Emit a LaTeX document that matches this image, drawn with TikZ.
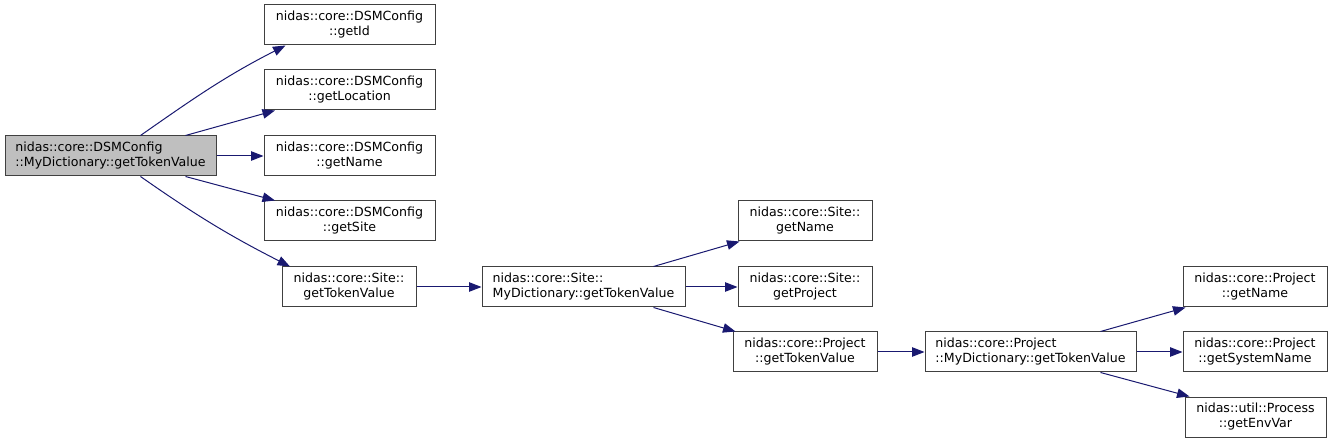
\documentclass[tikz,border=0pt]{standalone}
\usepackage{fontspec}
\setmainfont{DejaVu Sans}
\usetikzlibrary{arrows.meta}
\definecolor{edgeblue}{HTML}{191970}
\definecolor{boxgray}{HTML}{BFBFBF}
\definecolor{boxline}{HTML}{404040}
\tikzset{
  fn/.style={draw=boxline, line width=1pt, fill=white, minimum height=40pt, inner sep=0pt,
    align=center, font=\fontsize{12.6}{15}\selectfont},
  fnl/.style={fn, align=left},
  cur/.style={fnl, fill=boxgray},
  edge/.style={draw=edgeblue, line width=1pt, -{Triangle[length=12.5pt,width=9.5pt]}}
}
\begin{document}
\begin{tikzpicture}[x=1pt,y=1pt]
\useasboundingbox (0,0) rectangle (1333,-443);
\node[cur, minimum width=211pt] (main) at (110.5,-156) {nidas::core::DSMConfig\\::MyDictionary::getTokenValue};
\node[fn, minimum width=171pt] (getId) at (349.5,-25) {nidas::core::DSMConfig\\::getId};
\node[fn, minimum width=171pt] (getLoc) at (349.5,-90) {nidas::core::DSMConfig\\::getLocation};
\node[fn, minimum width=171pt] (dName) at (349.5,-156) {nidas::core::DSMConfig\\::getName};
\node[fn, minimum width=171pt] (getSite) at (349.5,-221) {nidas::core::DSMConfig\\::getSite};
\node[fn, minimum width=134pt] (sTok) at (349,-287) {nidas::core::Site::\\getTokenValue};
\node[fnl, minimum width=203pt] (sDict) at (583.5,-287) {nidas::core::Site::\\MyDictionary::getTokenValue};
\node[fn, minimum width=134pt] (sName) at (805,-221) {nidas::core::Site::\\getName};
\node[fn, minimum width=134pt] (sProj) at (805,-287) {nidas::core::Site::\\getProject};
\node[fn, minimum width=144pt] (pTok) at (805,-352) {nidas::core::Project\\::getTokenValue};
\node[fnl, minimum width=211pt] (pDict) at (1030.5,-352) {nidas::core::Project\\::MyDictionary::getTokenValue};
\node[fn, minimum width=144pt] (pName) at (1255,-287) {nidas::core::Project\\::getName};
\node[fn, minimum width=144pt] (pSys) at (1255,-352) {nidas::core::Project\\::getSystemName};
\node[fn, minimum width=141pt] (pEnv) at (1255.5,-417) {nidas::util::Process\\::getEnvVar};

\draw[edge] ([xshift=30pt]main.north) to[out=35,in=207] ([xshift=-64pt]getId.south);
\draw[edge] ([xshift=75pt]main.north) -- ([xshift=-74.5pt]getLoc.south);
\draw[edge] (main.east) -- (dName.west);
\draw[edge] ([xshift=75pt]main.south) -- ([xshift=-74.5pt]getSite.north);
\draw[edge] ([xshift=30pt]main.south) to[out=-35,in=153] ([xshift=-59pt]sTok.north);
\draw[edge] (sTok.east) -- (sDict.west);
\draw[edge] ([xshift=70pt]sDict.north) -- ([xshift=2pt]sName.south west);
\draw[edge] (sDict.east) -- (sProj.west);
\draw[edge] ([xshift=70pt]sDict.south) -- ([xshift=3pt]pTok.north west);
\draw[edge] (pTok.east) -- (pDict.west);
\draw[edge] ([xshift=70pt]pDict.north) -- ([xshift=3pt]pName.south west);
\draw[edge] (pDict.east) -- (pSys.west);
\draw[edge] ([xshift=70pt]pDict.south) -- ([xshift=5pt]pEnv.north west);
\end{tikzpicture}
\end{document}
